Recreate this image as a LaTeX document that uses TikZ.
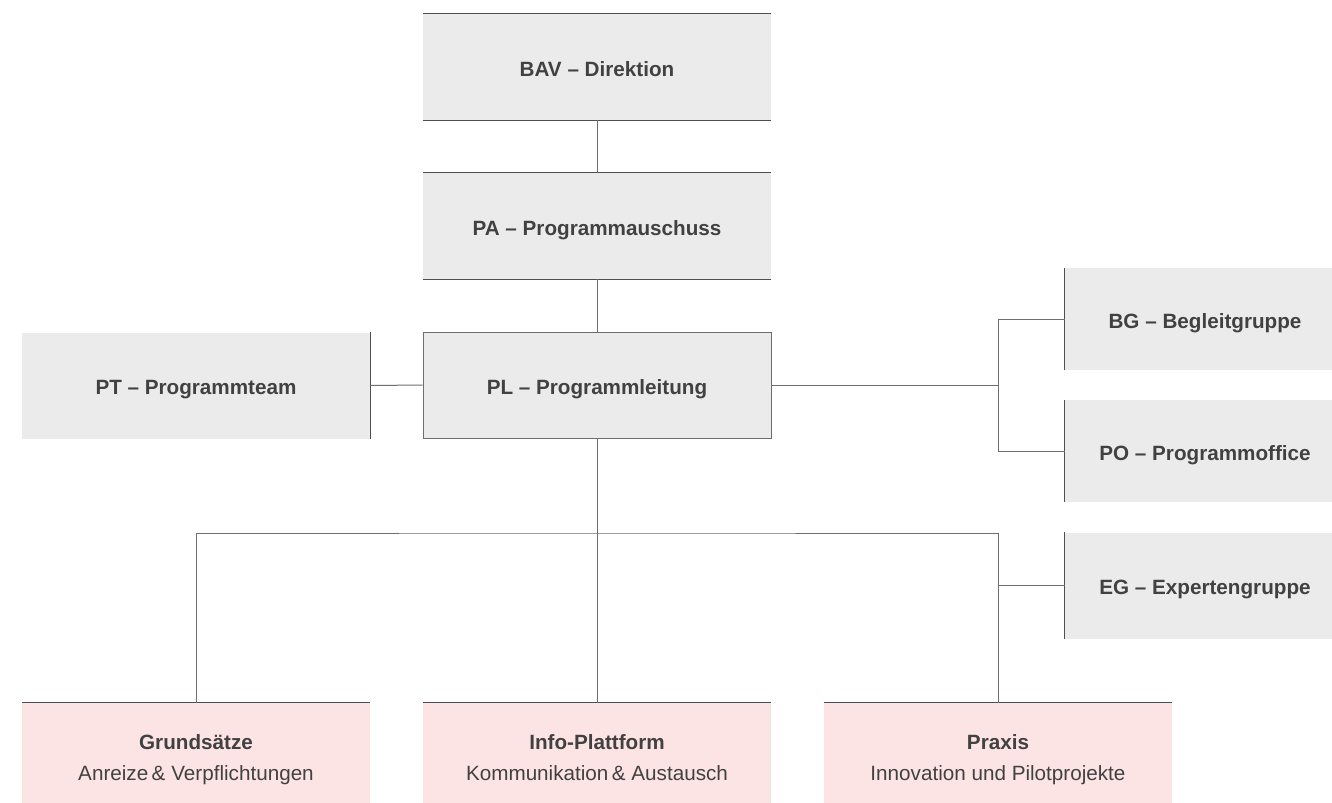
\documentclass[tikz,border=0pt]{standalone}
\usepackage{fontspec}
\setmainfont{Liberation Sans}
\usepackage{tikz}
\definecolor{boxgray}{HTML}{EBEBEB}
\definecolor{boxpink}{HTML}{FDE4E4}
\definecolor{rulegray}{HTML}{4F4F4F}
\definecolor{linkgray}{HTML}{6E6E6E}
\definecolor{textgray}{HTML}{414141}
\tikzset{
	unit/.style={fill=boxgray, inner sep=0pt, minimum width=261pt, minimum height=79.5pt, text=textgray, text height=14pt, text depth=0pt, font=\fontsize{15.5}{18}\selectfont\bfseries},
	side/.style={unit, minimum width=210pt, minimum height=76.5pt},
	work/.style={unit, fill=boxpink, minimum height=75pt, align=center, text height=40.5pt, text depth=0pt, font=\fontsize{15.5}{23.25}\selectfont},
	border/.style={draw=rulegray, line width=0.9pt},
	frame/.style={draw=linkgray, line width=0.75pt},
	link/.style={draw=linkgray, line width=0.75pt}
}

\begin{document}
\begin{tikzpicture}[x=0.75pt, y=-0.75pt]
		%%%%% START %%%%%
		
		\useasboundingbox[fill=white] (0, 0) rectangle (1332, 803);
		
		\node[unit] (bav) at (597, 67) {BAV – Direktion};
		\node[unit] (pa) at (597, 226) {PA – Programmauschuss};
		\node[unit, frame] (pl) at (597, 385) {PL – Programmleitung};
		\node[unit] (pt) at (196, 385.5) {PT – Programmteam};
		
		\node[side] (bg) at (1205, 319) {BG – Begleitgruppe};
		\node[side] (po) at (1205, 451) {PO – Programmoffice};
		\node[side, minimum height=79.5pt] (eg) at (1205, 585.5) {EG – Expertengruppe};
		
		\node[work] (grund) at (196, 753) {\textbf{Grundsätze}\\Anreize\,\&~Verpflichtungen};
		\node[work] (info) at (597, 753) {\textbf{Info-Plattform}\\Kommunikation\,\&~Austausch};
		\node[work] (praxis) at (998, 753) {\textbf{Praxis}\\Innovation und Pilotprojekte};
		
		%%%%% BORDERS %%%%%
		
		\draw[border] (bav.north west) -- (bav.north east);
		\draw[border] (bav.south west) -- (bav.south east);
		\draw[border] (pa.north west) -- (pa.north east);
		\draw[border] (pa.south west) -- (pa.south east);
		\draw[border] (pt.north east) -- (pt.south east);
		\draw[border] (bg.north west) -- (bg.south west);
		\draw[border] (po.north west) -- (po.south west);
		\draw[border] (eg.north west) -- (eg.south west);
		\draw[border] (grund.north west) -- (grund.north east);
		\draw[border] (info.north west) -- (info.north east);
		\draw[border] (praxis.north west) -- (praxis.north east);
		
		%%%%% LINKS %%%%%
		
		\coordinate (rj) at (998, 385);
		\coordinate (bus) at (597, 533);
		
		\draw[link] (bav.south) -- (pa.north);
		\draw[link] (pa.south) -- (pl.north);
		\draw[link] (pt.east) -- (pl.west);
		\draw[link] (pl.east) -- (rj);
		\draw[link] (bg.west) -| (rj) |- (po.west);
		\draw[link] (pl.south) -- (bus);
		\draw[link] (grund.north) |- (bus) -| (praxis.north);
		\draw[link] (bus) -- (info.north);
		\draw[link] (eg.west) -- (eg.west -| praxis.north);
		
		%%%%% END %%%%%
	\end{tikzpicture}
\end{document}
